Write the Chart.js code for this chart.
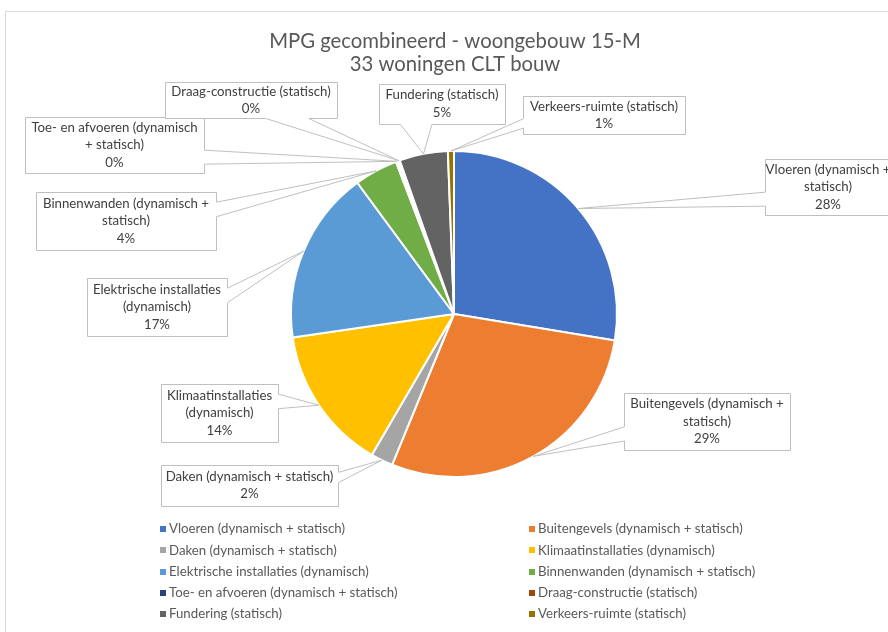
<!DOCTYPE html>
<html>
<head>
<meta charset="utf-8">
<script src="https://cdn.jsdelivr.net/npm/chart.js@4.4.1/dist/chart.umd.min.js"></script>
<style>
  html, body { margin: 0; padding: 0; background: #fff; }
  #frame { position: absolute; left: 5px; top: 11px; width: 1000px; height: 1000px; border: 1px solid #d9d9d9; }
  #pie { position: absolute; left: 0; top: 0; }
</style>
</head>
<body>
<div id="frame"></div>
<canvas id="pie" width="888" height="632"></canvas>
<script>
const titleLines = ['MPG gecombineerd - woongebouw 15-M', '33 woningen CLT bouw'];

const categories = [
  'Vloeren (dynamisch + statisch)',
  'Buitengevels (dynamisch + statisch)',
  'Daken (dynamisch + statisch)',
  'Klimaatinstallaties (dynamisch)',
  'Elektrische installaties (dynamisch)',
  'Binnenwanden (dynamisch + statisch)',
  'Toe- en afvoeren (dynamisch + statisch)',
  'Draag-constructie (statisch)',
  'Fundering (statisch)',
  'Verkeers-ruimte (statisch)'
];
// share of the total, in percent
const shares = [27.6, 28.6, 2.2, 14.3, 17.2, 4.3, 0.2, 0.2, 4.8, 0.6];

const colors = ['#4472C4', '#ED7D31', '#A5A5A5', '#FFC000', '#5B9BD5',
                '#70AD47', '#264478', '#9E480E', '#636363', '#997300'];

// words on the first line of each data label, the rest wraps
const labelFirstLine = [3, 3, 4, 1, 2, 3, 4, 2, 2, 2];
// data label boxes: centre x, centre y, width, height
const labelBoxes = [
  [828, 187, 126, 56],
  [707, 421.5, 166, 57],
  [249.5, 485, 177, 41],
  [219.5, 413, 117, 58],
  [157, 307, 140, 58],
  [126, 221, 180, 58],
  [114.5, 145, 179, 56],
  [251, 100, 172, 36],
  [442, 103.5, 126, 40],
  [604, 115, 162, 38]
];

const FONT = 'Lato, "Open Sans", sans-serif';

function fitSize(ctx, text, width) {
  ctx.font = '100px ' + FONT;
  return 100 * width / ctx.measureText(text).width;
}

// rectangle with a wedge pointing at (tx, ty), like Office's wedgeRectCallout
function calloutPath(ctx, x0, y0, w, h, tx, ty) {
  const x1 = x0 + w, y1 = y0 + h;
  const dx = tx - (x0 + w / 2), dy = ty - (y0 + h / 2);
  const bx1 = x0 + w * (dx > 0 ? 7 : 2) / 12, bx2 = x0 + w * (dx > 0 ? 10 : 5) / 12;
  const by1 = y0 + h * (dy > 0 ? 7 : 2) / 12, by2 = y0 + h * (dy > 0 ? 10 : 5) / 12;
  const side = Math.abs(dx * h) > Math.abs(dy * w);
  ctx.beginPath();
  ctx.moveTo(x0, y0);
  if (!side && dy < 0) { ctx.lineTo(bx1, y0); ctx.lineTo(tx, ty); ctx.lineTo(bx2, y0); }
  ctx.lineTo(x1, y0);
  if (side && dx > 0) { ctx.lineTo(x1, by1); ctx.lineTo(tx, ty); ctx.lineTo(x1, by2); }
  ctx.lineTo(x1, y1);
  if (!side && dy > 0) { ctx.lineTo(bx2, y1); ctx.lineTo(tx, ty); ctx.lineTo(bx1, y1); }
  ctx.lineTo(x0, y1);
  if (side && dx < 0) { ctx.lineTo(x0, by2); ctx.lineTo(tx, ty); ctx.lineTo(x0, by1); }
  ctx.closePath();
}

const excelLook = {
  id: 'excelLook',
  afterDraw(chart) {
    const ctx = chart.ctx;
    const meta = chart.getDatasetMeta(0);
    const total = shares.reduce((a, b) => a + b, 0);
    ctx.save();
    ctx.textAlign = 'center';
    ctx.textBaseline = 'middle';

    // title
    const tSize = fitSize(ctx, titleLines[0], 372);
    ctx.font = tSize + 'px ' + FONT;
    ctx.fillStyle = '#595959';
    titleLines.forEach((t, i) => ctx.fillText(t, 455, 41 + i * 23.5));

    // data labels
    const lSize = fitSize(ctx, 'Verkeers-ruimte (statisch)', 148);
    meta.data.forEach((arc, i) => {
      const mid = (arc.startAngle + arc.endAngle) / 2;
      const tx = arc.x + Math.cos(mid) * arc.outerRadius;
      const ty = arc.y + Math.sin(mid) * arc.outerRadius;
      const [cx, cy, w, h] = labelBoxes[i];
      calloutPath(ctx, Math.round(cx - w / 2) + 0.5, Math.round(cy - h / 2) + 0.5, w, h, tx, ty);
      ctx.fillStyle = '#fff';
      ctx.fill();
      ctx.strokeStyle = '#bfbfbf';
      ctx.lineWidth = 1;
      ctx.stroke();

      const words = categories[i].split(' ');
      const lines = [words.slice(0, labelFirstLine[i]).join(' ')];
      if (words.length > labelFirstLine[i]) lines.push(words.slice(labelFirstLine[i]).join(' '));
      lines.push(Math.round(shares[i] / total * 100) + '%');
      ctx.font = lSize + 'px ' + FONT;
      ctx.fillStyle = '#404040';
      lines.forEach((t, k) => ctx.fillText(t, cx, cy + (k - (lines.length - 1) / 2) * 17.5));
    });

    // legend, two columns
    ctx.textAlign = 'left';
    ctx.font = lSize + 'px ' + FONT;
    categories.forEach((c, i) => {
      const x = i % 2 === 0 ? 160 : 529;
      const y = 529 + Math.floor(i / 2) * 21.25;
      ctx.fillStyle = colors[i];
      ctx.fillRect(x, Math.round(y - 3), 6, 6);
      ctx.fillStyle = '#595959';
      ctx.fillText(c, x + 9, y);
    });
    ctx.restore();
  }
};

new Chart(document.getElementById('pie'), {
  type: 'pie',
  data: {
    labels: categories,
    datasets: [{
      data: shares,
      backgroundColor: colors,
      borderColor: '#ffffff',
      borderWidth: 2,
      radius: 163
    }]
  },
  options: {
    responsive: false,
    animation: false,
    layout: { padding: { left: 291, right: 271, top: 151, bottom: 155 } },
    plugins: {
      legend: { display: false },
      title: { display: false },
      tooltip: { enabled: false }
    }
  },
  plugins: [excelLook]
});
</script>
</body>
</html>
